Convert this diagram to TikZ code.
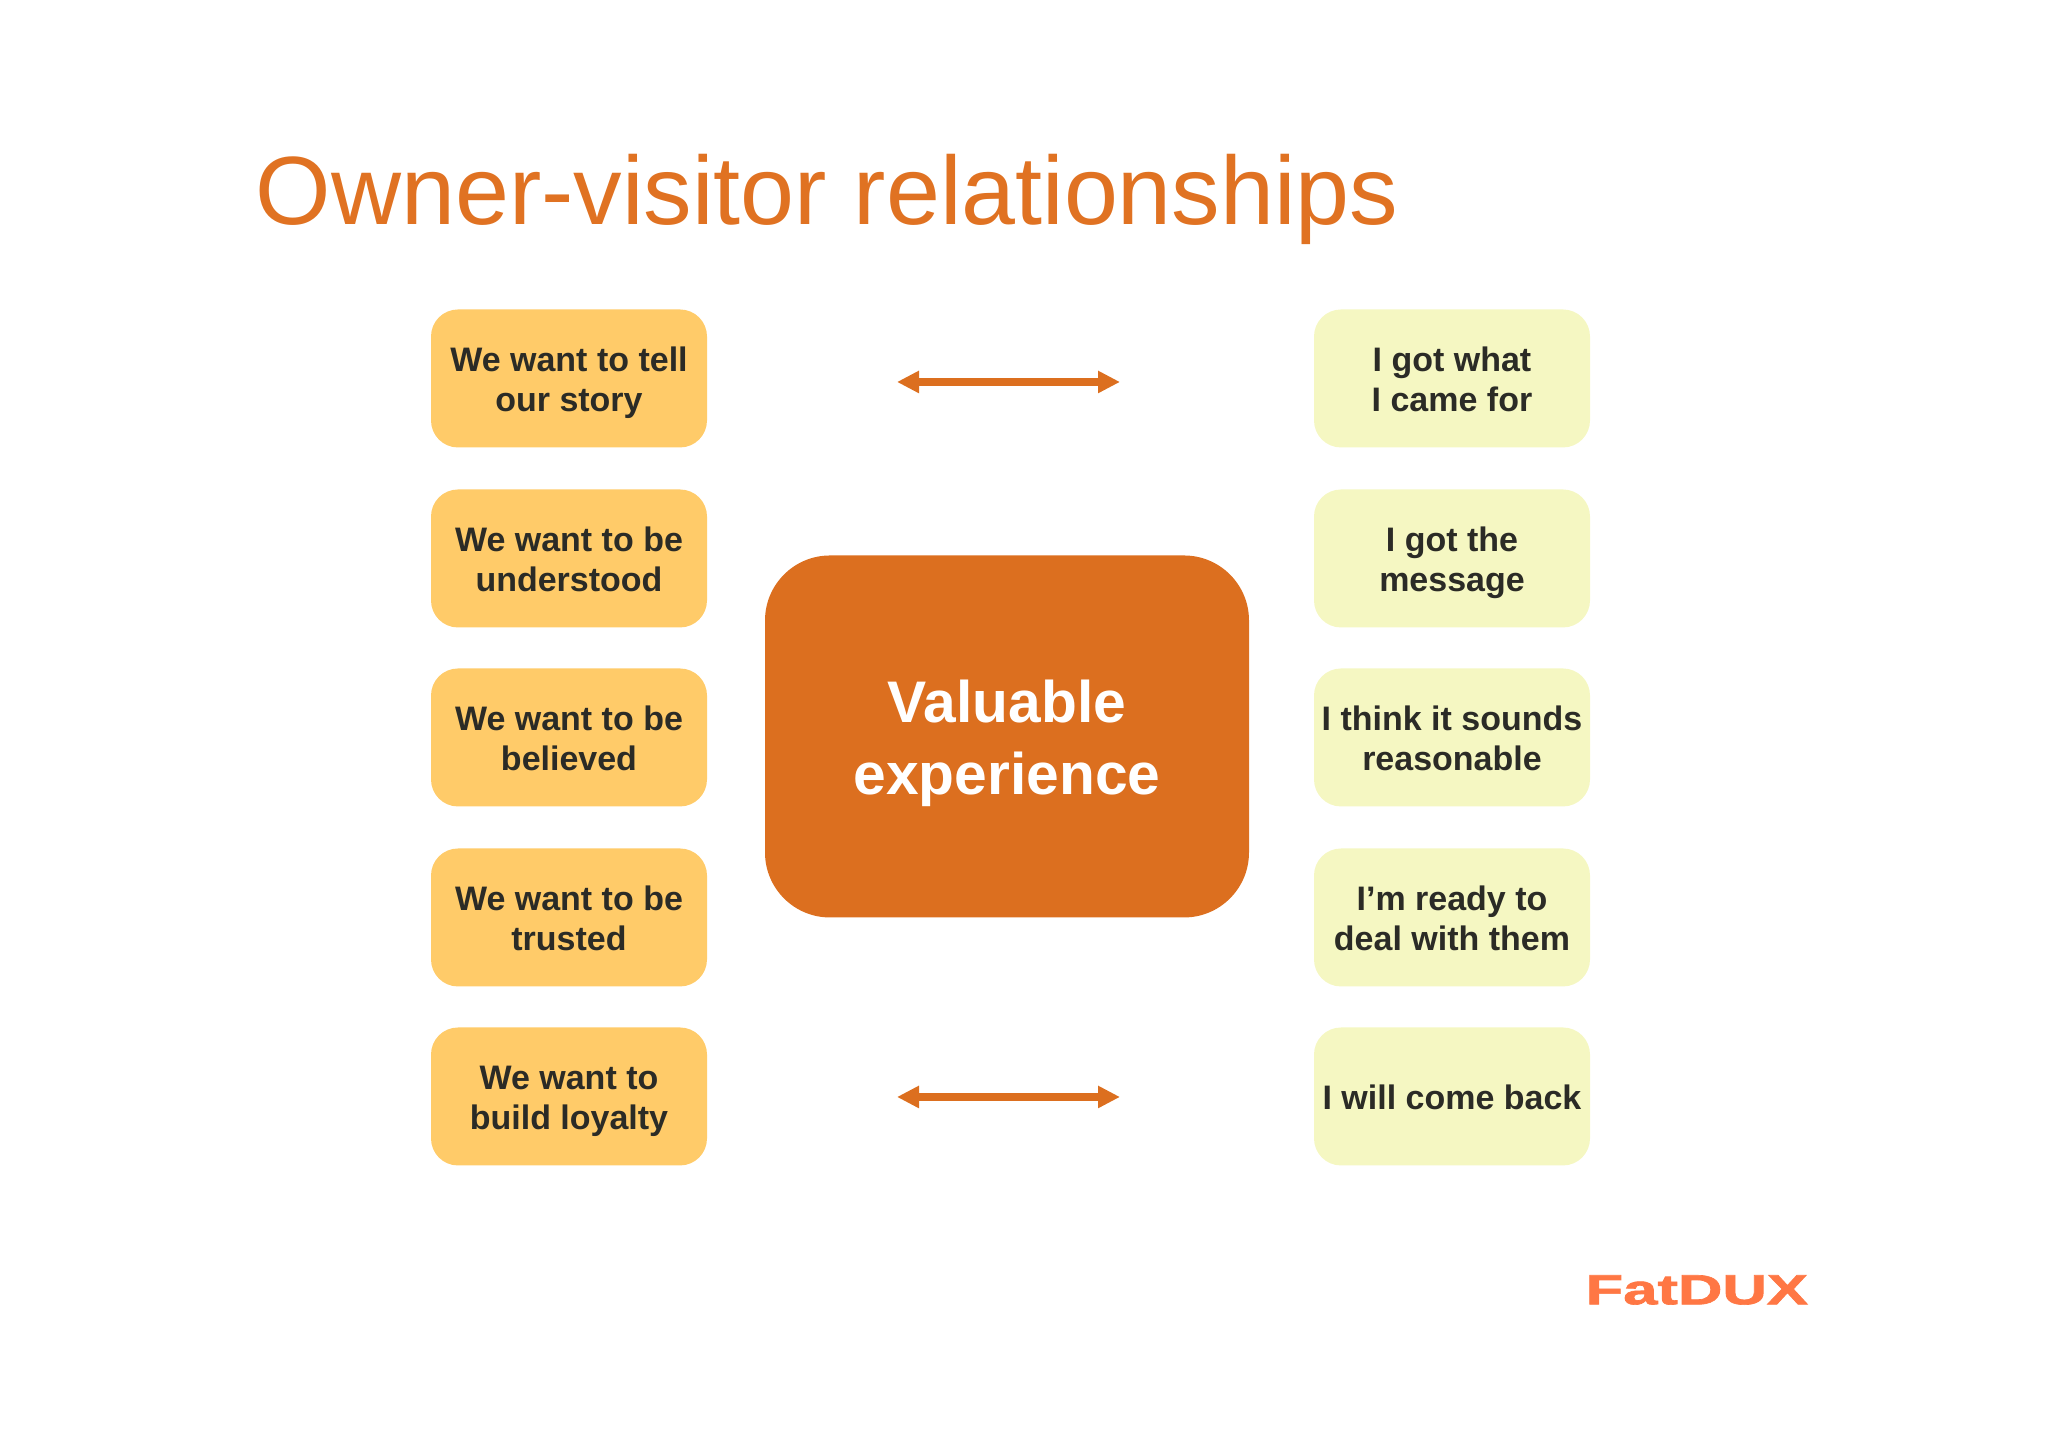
\documentclass[tikz,border=0pt]{standalone}
\usepackage{fontspec}
\setmainfont{Liberation Sans}
\newfontfamily\logofont[FakeBold=1.5]{Liberation Sans Bold}
\usetikzlibrary{arrows.meta}
\definecolor{tituloorange}{HTML}{E07222}
\definecolor{centerorange}{HTML}{DC6F1F}
\definecolor{ownerbox}{HTML}{FFCB69}
\definecolor{visitorbox}{HTML}{F5F7C2}
\definecolor{boxtext}{HTML}{2B2B26}
\definecolor{logoorange}{HTML}{FF7744}
\lineskiplimit=-20pt
\newcommand{\boxstrut}{\rule[-2.6pt]{0pt}{12.6pt}}
\newcommand{\centrostrut}{\rule[-3pt]{0pt}{19pt}}
\tikzset{
  ownernode/.style={fill=ownerbox, rounded corners=0.27cm, minimum width=2.76cm, minimum height=1.38cm,
    align=center, text=boxtext, font=\fontsize{9.67}{11.6}\selectfont\bfseries, inner sep=0pt},
  visitornode/.style={ownernode, fill=visitorbox},
  linkarrow/.style={{Triangle[length=0.22cm,width=0.21cm]}-{Triangle[length=0.22cm,width=0.21cm]}, centerorange, line width=0.08cm}
}
\begin{document}
\begin{tikzpicture}
\useasboundingbox (0,0) rectangle (20.48,14.47);

% Titulo
\node[anchor=west, text=tituloorange, inner sep=0pt, font=\fontsize{27.6}{30}\selectfont] (titulo) at (2.55,12.48) {Owner-visitor relationships};

% Columna izquierda
\node[ownernode] (owner1) at (5.69,10.685) {\boxstrut We want to tell\\\boxstrut our story};
\node[ownernode] (owner2) at (5.69,8.885) {\boxstrut We want to be\\\boxstrut understood};
\node[ownernode] (owner3) at (5.69,7.095) {\boxstrut We want to be\\\boxstrut believed};
\node[ownernode] (owner4) at (5.69,5.295) {\boxstrut We want to be\\\boxstrut trusted};
\node[ownernode] (owner5) at (5.69,3.505) {\boxstrut We want to\\\boxstrut build loyalty};

% Columna derecha
\node[visitornode] (visitor1) at (14.52,10.685) {\boxstrut I got what\\\boxstrut I came for};
\node[visitornode] (visitor2) at (14.52,8.885) {\boxstrut I got the\\\boxstrut message};
\node[visitornode] (visitor3) at (14.52,7.095) {\boxstrut I think it sounds\\\boxstrut reasonable};
\node[visitornode] (visitor4) at (14.52,5.295) {\boxstrut I’m ready to\\\boxstrut deal with them};
\node[visitornode] (visitor5) at (14.52,3.505) {\boxstrut I will come back};

% Centro
\node[fill=centerorange, rounded corners=0.65cm, minimum width=4.84cm, minimum height=3.62cm, align=center,
  text=white, inner sep=0pt, font=\fontsize{16.7}{20.3}\selectfont\bfseries] (centro) at (10.07,7.105) {\centrostrut Valuable\\\centrostrut experience};

% Flechas
\coordinate (arribaizq) at (8.97,10.65);
\coordinate (arribader) at (11.20,10.65);
\coordinate (abajoizq) at (8.97,3.50);
\coordinate (abajoder) at (11.20,3.50);
\draw[linkarrow] (arribaizq) -- (arribader);
\draw[linkarrow] (abajoizq) -- (abajoder);

% Logo
\node[anchor=east, transform shape, xscale=1.46, text=logoorange, inner sep=0pt, font=\fontsize{12}{12}\logofont] (logo) at (18.09,1.57) {FatDUX};
\end{tikzpicture}
\end{document}
